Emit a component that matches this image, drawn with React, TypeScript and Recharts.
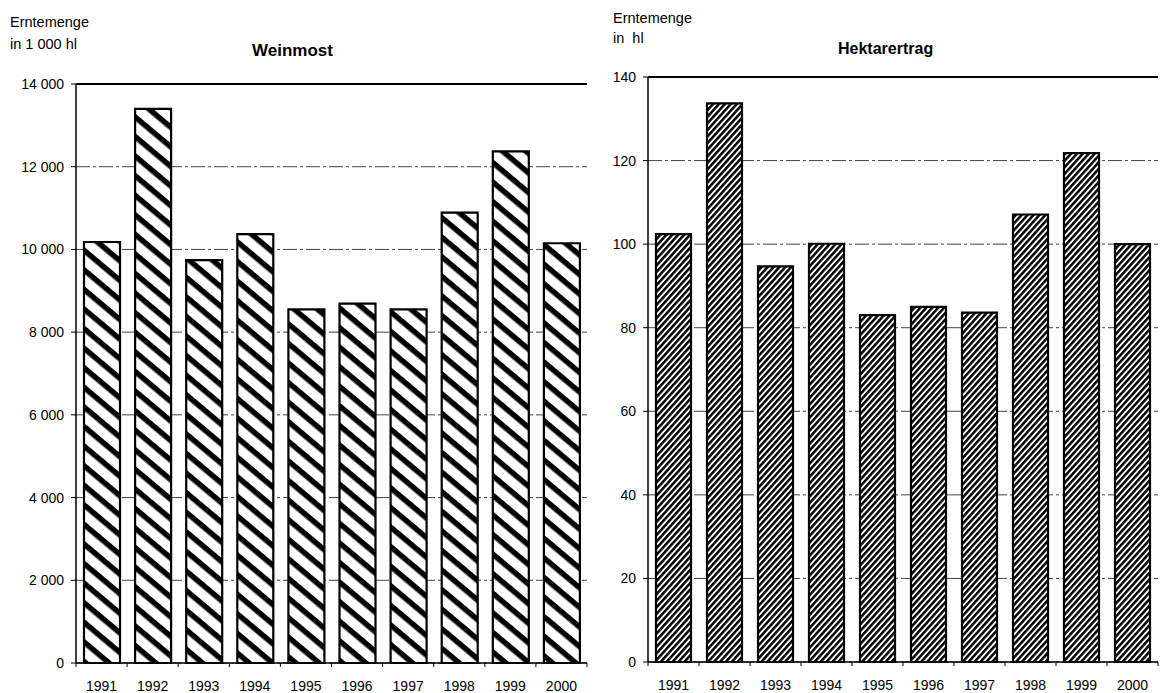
import React from 'react';
import { BarChart, Bar, XAxis, YAxis, CartesianGrid, ReferenceLine } from 'recharts';

const years = ['1991', '1992', '1993', '1994', '1995', '1996', '1997', '1998', '1999', '2000'];
const weinmost = [10180, 13400, 9740, 10370, 8550, 8690, 8550, 10890, 12370, 10150];
const hektarertrag = [102.4, 133.7, 94.7, 100.1, 83.0, 85.0, 83.6, 107.1, 121.8, 100.0];
const weinmostTicks = [0, 2000, 4000, 6000, 8000, 10000, 12000, 14000];
const hektarTicks = [0, 20, 40, 60, 80, 100, 120, 140];

const leftData = years.map((y, i) => ({ year: y, value: weinmost[i] }));
const rightData = years.map((y, i) => ({ year: y, value: hektarertrag[i] }));

const FONT = '"Liberation Sans", Arial, Helvetica, sans-serif';

const fmt = (v: number) => String(v).replace(/\B(?=(\d{3})+(?!\d))/g, ' ');

const makeYearTick = (band: number, count: number) => (props: any) => {
  const { x, y, payload, index } = props;
  const half = band / 2;
  return (
    <g>
      <line x1={x - half} x2={x - half} y1={y} y2={y + 4} stroke="#000" strokeWidth={1} />
      {index === count - 1 && (
        <line x1={x + half} x2={x + half} y1={y} y2={y + 4} stroke="#000" strokeWidth={1} />
      )}
      <text x={x} y={y + 28} textAnchor="middle" fontSize={14} fontFamily={FONT} fill="#000">
        {payload.value}
      </text>
    </g>
  );
};

const labelStyle: React.CSSProperties = {
  position: 'absolute',
  fontFamily: FONT,
  color: '#000',
  whiteSpace: 'pre',
  lineHeight: 1,
};

export default function App() {
  return (
    <div style={{ position: 'absolute', left: 0, top: 0, width: 1161, height: 693, background: '#fff', overflow: 'hidden' }}>
      <svg width={0} height={0} style={{ position: 'absolute' }}>
        <defs>
          <pattern id="hatchL" patternUnits="userSpaceOnUse" width={16} height={15} patternTransform="rotate(40)">
            <rect width={16} height={15} fill="#fff" />
            <rect width={16} height={5.5} fill="#000" />
          </pattern>
          <pattern id="hatchR" patternUnits="userSpaceOnUse" width={8} height={4.4} patternTransform="rotate(-48)">
            <rect width={8} height={4.4} fill="#fff" />
            <rect width={8} height={2.5} fill="#000" />
          </pattern>
        </defs>
      </svg>

      <div style={{ ...labelStyle, left: 10, top: 15, fontSize: 14.5 }}>Erntemenge</div>
      <div style={{ ...labelStyle, left: 10, top: 37, fontSize: 14.5 }}>in 1 000 hl</div>
      <div style={{ ...labelStyle, left: 252, top: 42, fontSize: 17, fontWeight: 'bold' }}>Weinmost</div>

      <div style={{ ...labelStyle, left: 613, top: 11, fontSize: 14.5 }}>Erntemenge</div>
      <div style={{ ...labelStyle, left: 613, top: 31, fontSize: 14.5 }}>in  hl</div>
      <div style={{ ...labelStyle, left: 838, top: 41, fontSize: 16, fontWeight: 'bold' }}>Hektarertrag</div>

      <div style={{ position: 'absolute', left: 0, top: 0 }}>
        <BarChart width={600} height={693} data={leftData} margin={{ top: 84, right: 13, bottom: 0, left: 0 }}>
          <CartesianGrid vertical={false} stroke="#444" strokeDasharray="14 3 3 3" strokeWidth={1} />
          <XAxis
            dataKey="year"
            height={30}
            tickSize={0}
            tickMargin={0}
            tickLine={false}
            axisLine={{ stroke: '#000', strokeWidth: 1.5 }}
            interval={0}
            tick={makeYearTick(51.1, years.length)}
          />
          <YAxis
            width={76}
            domain={[0, 14000]}
            ticks={weinmostTicks}
            tickFormatter={fmt}
            tickSize={5}
            tickMargin={7}
            axisLine={{ stroke: '#000', strokeWidth: 1.5 }}
            tickLine={{ stroke: '#000' }}
            tick={{ fontSize: 14, fill: '#000', fontFamily: FONT }}
          />
          <YAxis yAxisId="frame" orientation="right" width={0} domain={[0, 14000]} tick={false} tickLine={false} axisLine={{ stroke: '#000', strokeWidth: 1.2 }} />
          <ReferenceLine y={14000} stroke="#000" strokeWidth={2} />
          <Bar dataKey="value" fill="url(#hatchL)" stroke="#000" strokeWidth={2.2} barSize={36} isAnimationActive={false} />
        </BarChart>
      </div>

      <div style={{ position: 'absolute', left: 580, top: 0 }}>
        <BarChart width={581} height={693} data={rightData} margin={{ top: 77, right: 3, bottom: 0, left: 0 }}>
          <CartesianGrid vertical={false} stroke="#444" strokeDasharray="14 3 3 3" strokeWidth={1} />
          <XAxis
            dataKey="year"
            height={31}
            tickSize={0}
            tickMargin={0}
            tickLine={false}
            axisLine={{ stroke: '#000', strokeWidth: 1.5 }}
            interval={0}
            tick={makeYearTick(51, years.length)}
          />
          <YAxis
            width={68}
            domain={[0, 140]}
            ticks={hektarTicks}
            tickSize={5}
            tickMargin={7}
            axisLine={{ stroke: '#000', strokeWidth: 1.5 }}
            tickLine={{ stroke: '#000' }}
            tick={{ fontSize: 14, fill: '#000', fontFamily: FONT }}
          />
          <YAxis yAxisId="frame" orientation="right" width={0} domain={[0, 140]} tick={false} tickLine={false} axisLine={{ stroke: '#000', strokeWidth: 1.2 }} />
          <ReferenceLine y={140} stroke="#000" strokeWidth={2} />
          <Bar dataKey="value" fill="url(#hatchR)" stroke="#000" strokeWidth={2.2} barSize={35} isAnimationActive={false} />
        </BarChart>
      </div>
    </div>
  );
}
